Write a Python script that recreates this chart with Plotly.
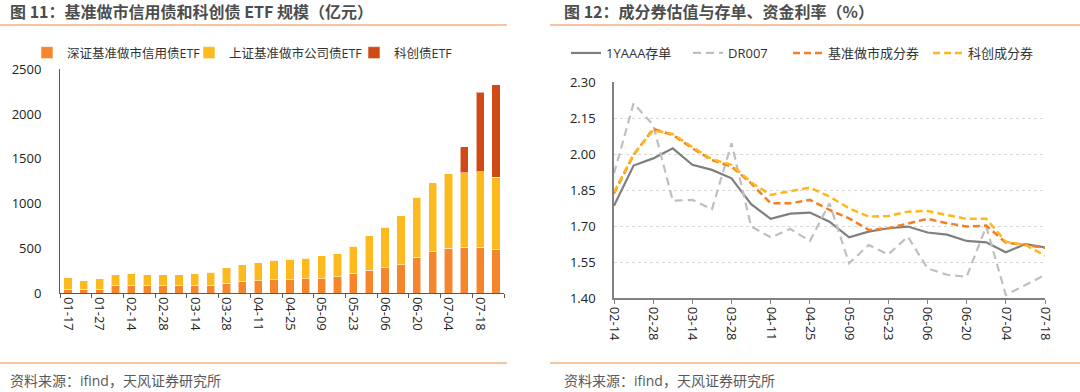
import plotly.graph_objects as go

# ---------------- Left chart data (亿元) ----------------
etf_dates = ["01-17", "01-24", "01-27", "02-07", "02-14", "02-21", "02-28", "03-07",
             "03-14", "03-21", "03-28", "04-03", "04-11", "04-18", "04-25", "04-30",
             "05-09", "05-16", "05-23", "05-30", "06-06", "06-13", "06-20", "06-27",
             "07-04", "07-11", "07-18", "07-25"]
sz_etf = [45, 45, 45, 89, 89, 89, 89, 89, 89, 89, 115, 130, 138, 153, 153, 160,
          160, 186, 223, 260, 283, 316, 405, 465, 502, 513, 513, 487]
sh_etf = [130, 93, 115, 119, 130, 119, 119, 119, 130, 145, 168, 186, 204, 215, 227, 231,
          257, 253, 302, 384, 457, 547, 666, 770, 830, 830, 841, 811]
kc_etf = [0, 0, 0, 0, 0, 0, 0, 0, 0, 0, 0, 0, 0, 0, 0, 0,
          0, 0, 0, 0, 0, 0, 0, 0, 0, 290, 889, 1027]

# ---------------- Right chart data (%) ----------------
rate_dates = ["02-14", "02-21", "02-28", "03-07", "03-14", "03-21", "03-28", "04-03",
              "04-11", "04-18", "04-25", "04-30", "05-09", "05-16", "05-23", "05-30",
              "06-06", "06-13", "06-20", "06-27", "07-04", "07-11", "07-18"]
cd_1yaaa = [1.786, 1.953, 1.983, 2.025, 1.956, 1.935, 1.900, 1.792, 1.731, 1.753, 1.757, 1.719,
            1.654, 1.678, 1.692, 1.699, 1.674, 1.665, 1.639, 1.633, 1.592, 1.626, 1.612]
dr007 = [1.92, 2.212, 2.122, 1.807, 1.810, 1.771, 2.046, 1.699, 1.654, 1.689, 1.639, 1.796,
         1.546, 1.622, 1.583, 1.657, 1.525, 1.498, 1.490, 1.699, 1.414, 1.455, 1.497]
mm_bond = [1.837, 1.997, 2.106, 2.081, 2.025, 1.976, 1.949, 1.879, 1.796, 1.796, 1.810, 1.768,
           1.733, 1.685, 1.692, 1.710, 1.731, 1.713, 1.699, 1.703, 1.632, 1.622, 1.611]
kc_bond = [1.842, 2.000, 2.100, 2.085, 2.030, 1.980, 1.956, 1.883, 1.831, 1.847, 1.861, 1.824,
           1.775, 1.740, 1.743, 1.761, 1.764, 1.747, 1.731, 1.731, 1.636, 1.622, 1.578]

left_ticks = [0, 500, 1000, 1500, 2000, 2500]
right_ticks = [1.40, 1.55, 1.70, 1.85, 2.00, 2.15, 2.30]

FONT = "Open Sans, Noto Sans CJK SC, sans-serif"
TFONT = "Noto Sans CJK SC, sans-serif"
W, H = 1080, 392
C_ORANGE = "#F5862B"
C_YELLOW = "#FDBA1F"
C_RED = "#D14A16"

fig = go.Figure()

bar_line = dict(color="rgba(255,255,255,0.55)", width=1)
fig.add_trace(go.Bar(x=etf_dates, y=sz_etf, name="深证基准做市信用债ETF",
                     marker=dict(color=C_ORANGE, line=bar_line), xaxis="x", yaxis="y", legend="legend"))
fig.add_trace(go.Bar(x=etf_dates, y=sh_etf, name="上证基准做市公司债ETF",
                     marker=dict(color=C_YELLOW, line=bar_line), xaxis="x", yaxis="y", legend="legend2"))
fig.add_trace(go.Bar(x=etf_dates, y=kc_etf, name="科创债ETF",
                     marker=dict(color=C_RED, line=bar_line), xaxis="x", yaxis="y", legend="legend3"))

fig.add_trace(go.Scatter(x=rate_dates, y=cd_1yaaa, name="1YAAA存单", mode="lines",
                         line=dict(color="#7F7F7F", width=2.2), xaxis="x2", yaxis="y2", legend="legend4"))
fig.add_trace(go.Scatter(x=rate_dates, y=dr007, name="DR007", mode="lines",
                         line=dict(color="#BFBFBF", width=2.2, dash="8px,5px"), xaxis="x2", yaxis="y2", legend="legend5"))
fig.add_trace(go.Scatter(x=rate_dates, y=mm_bond, name="基准做市成分券", mode="lines",
                         line=dict(color="#F47F24", width=2.5, dash="7px,4px"), xaxis="x2", yaxis="y2", legend="legend6"))
fig.add_trace(go.Scatter(x=rate_dates, y=kc_bond, name="科创成分券", mode="lines",
                         line=dict(color="#FFB81C", width=2.5, dash="7px,4px"), xaxis="x2", yaxis="y2", legend="legend7"))

tickfont = dict(family=FONT, size=13, color="#222222")


def leg(xpx, size):
    return dict(orientation="h", x=xpx / W, y=1 - 53 / H, xanchor="left", yanchor="middle",
                font=dict(family=FONT, size=size, color="#333333"), itemwidth=30,
                bgcolor="rgba(0,0,0,0)")


fig.update_layout(
    template="none",
    width=W, height=H,
    margin=dict(l=0, r=0, t=0, b=0, pad=0, autoexpand=False),
    paper_bgcolor="white", plot_bgcolor="white",
    barmode="stack", bargap=0.48,
    font=dict(family=FONT, color="#333333"),
    xaxis=dict(domain=[60 / W, 504 / W], type="category", tickmode="linear", tick0=0, dtick=2,
               tickson="boundaries", ticks="outside", ticklen=4, tickcolor="#595959",
               showline=True, linecolor="#595959", linewidth=1, tickangle=90,
               tickfont=tickfont, showgrid=False, anchor="y", automargin=False),
    yaxis=dict(domain=[1 - 293.3 / H, 1 - 69.3 / H], range=[0, 2500], tickvals=left_ticks,
               showline=True, linecolor="#595959", linewidth=1, showgrid=False,
               ticks="", tickfont=tickfont, ticklabelstandoff=15, anchor="x", zeroline=False,
               automargin=False),
    xaxis2=dict(domain=[614 / W, 1045 / W], type="category", range=[0, 22], tickmode="linear",
                tick0=0, dtick=2, ticks="outside", ticklen=4, tickcolor="#808080",
                showline=True, linecolor="#808080", linewidth=1.5, tickangle=90,
                tickfont=tickfont, showgrid=False, anchor="y2", automargin=False),
    yaxis2=dict(domain=[1 - 298.3 / H, 1 - 82.3 / H], range=[1.40, 2.30], tickvals=right_ticks,
                tickformat=".2f", showline=True, linecolor="#808080", linewidth=1.5,
                showgrid=True, gridcolor="#D9D9D9", gridwidth=1, griddash="dot",
                ticks="", tickfont=tickfont, ticklabelstandoff=14, anchor="x2", zeroline=False,
                automargin=False),
    legend=leg(27, 12.5),
    legend2=leg(189, 12.5),
    legend3=leg(354, 12.5),
    legend4=leg(566, 13),
    legend5=leg(688, 13),
    legend6=leg(788, 13),
    legend7=leg(928, 13),
    showlegend=True,
)

sep = "#F4B183"
shapes = [
    dict(type="line", xref="paper", yref="paper", x0=0, x1=507 / W, y0=1 - 25 / H, y1=1 - 25 / H,
         line=dict(color=sep, width=1.5)),
    dict(type="line", xref="paper", yref="paper", x0=550 / W, x1=1, y0=1 - 25 / H, y1=1 - 25 / H,
         line=dict(color=sep, width=1.5)),
    dict(type="line", xref="paper", yref="paper", x0=0, x1=507 / W, y0=1 - 363 / H, y1=1 - 363 / H,
         line=dict(color=sep, width=1.5)),
    dict(type="line", xref="paper", yref="paper", x0=550 / W, x1=1, y0=1 - 363 / H, y1=1 - 363 / H,
         line=dict(color=sep, width=1.5)),
]
fig.update_layout(shapes=shapes)

title_font = dict(family=TFONT, size=16, color="#4D4D4D")
src_font = dict(family=FONT, size=14, color="#595959")
annotations = [
    dict(text="<b>图 11：基准做市信用债和科创债 ETF 规模（亿元）</b>", x=8 / W, y=1 - 11 / H,
         xref="paper", yref="paper", xanchor="left", yanchor="middle", showarrow=False, font=title_font),
    dict(text="<b>图 12：成分券估值与存单、资金利率（%）</b>", x=562 / W, y=1 - 11 / H,
         xref="paper", yref="paper", xanchor="left", yanchor="middle", showarrow=False, font=title_font),
    dict(text="资料来源：ifind，天风证券研究所", x=8 / W, y=1 - 380 / H,
         xref="paper", yref="paper", xanchor="left", yanchor="middle", showarrow=False, font=src_font),
    dict(text="资料来源：ifind，天风证券研究所", x=562 / W, y=1 - 380 / H,
         xref="paper", yref="paper", xanchor="left", yanchor="middle", showarrow=False, font=src_font),
]
fig.update_layout(annotations=annotations)

fig.write_html("out.html", config={"displayModeBar": False},
               post_script="document.body.style.margin='0px';document.body.style.overflow='hidden';")
